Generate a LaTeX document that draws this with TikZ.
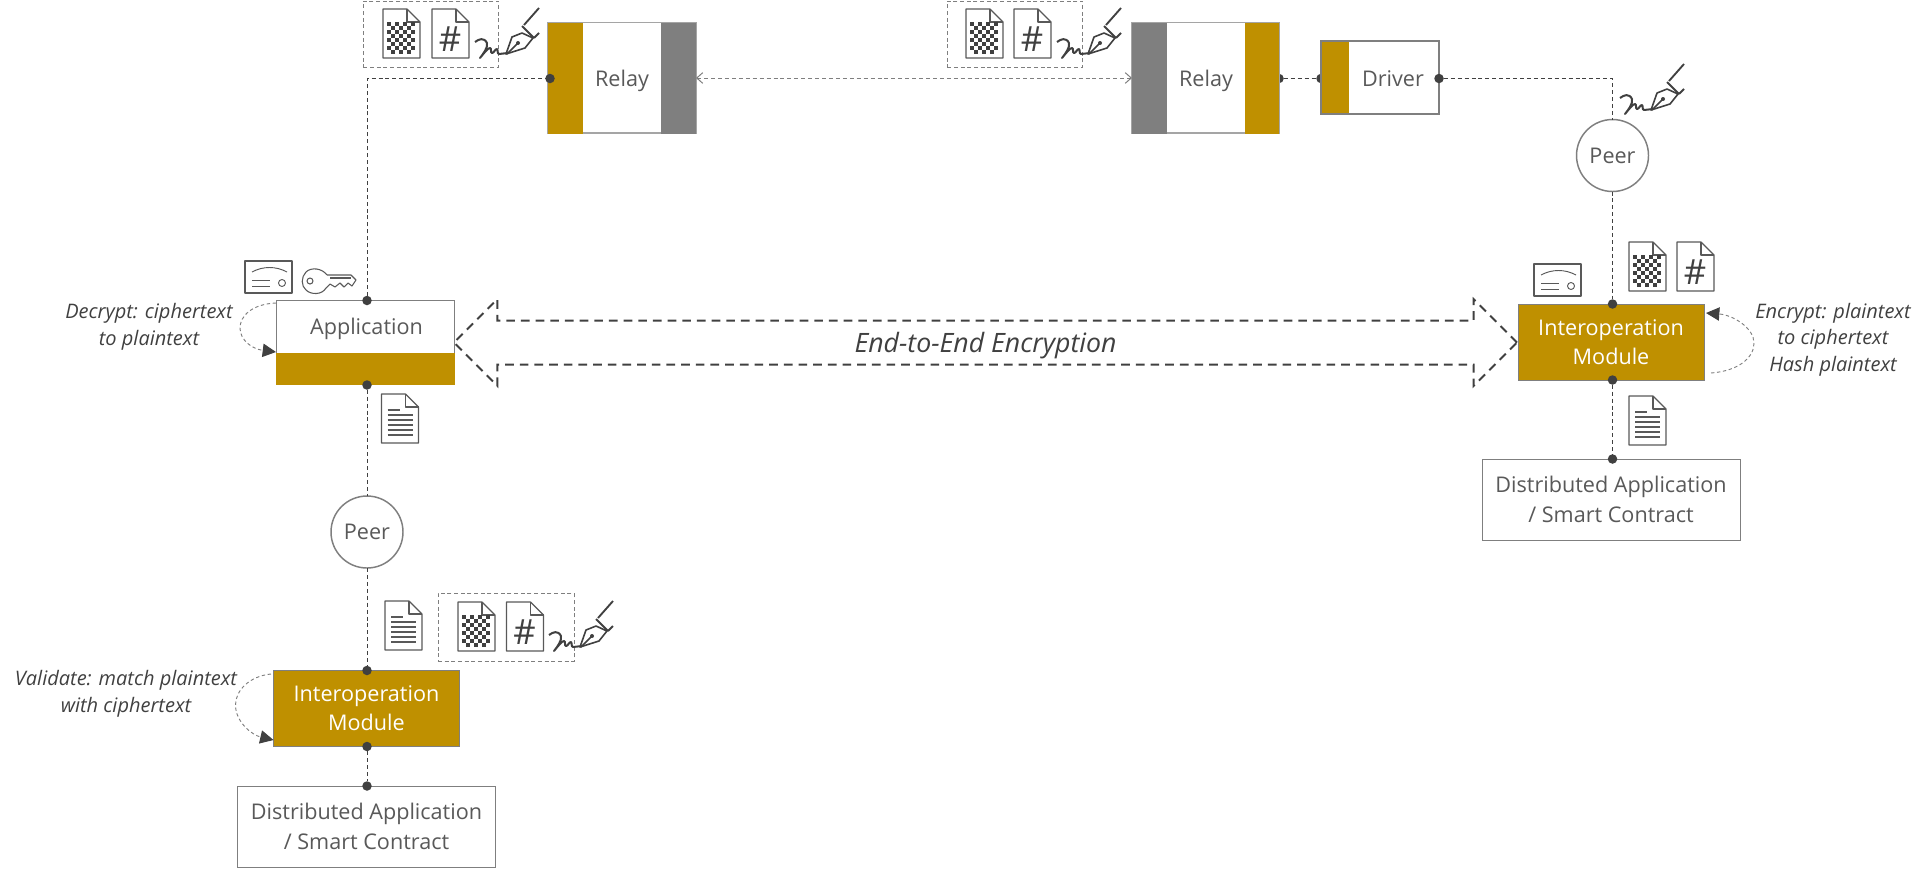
\documentclass[tikz,border=0pt]{standalone}
\usepackage{fontspec}
\setmainfont{Open Sans}
\usetikzlibrary{arrows.meta}
\usetikzlibrary{shapes.arrows}

\begin{document}
\begin{tikzpicture}[x=0.75pt,y=-0.75pt]
    % Colours
    \definecolor{Gold_bar}{RGB}{191,144,0}
    \definecolor{Gray_bar}{RGB}{127,127,127}
    \definecolor{Gray_line}{RGB}{127,127,127}
    \definecolor{Gray_text}{RGB}{89,89,89}
    \definecolor{Gray_dark}{RGB}{64,64,64}

    \tikzset{
        boxlabel/.style={text=Gray_text, font=\fontsize{16.2}{22}\selectfont, align=center},
        plainbox/.style={rectangle, draw=Gray_line, fill=white, line width=0.7pt, outer sep=0pt, inner sep=0pt, anchor=north west, boxlabel},
        goldbox/.style={plainbox, fill=Gold_bar, text=white},
        barnode/.style={rectangle, outer sep=0pt, inner sep=0pt, anchor=north west},
        peernode/.style={circle, draw=Gray_line, fill=white, line width=1.1pt, minimum size=72*0.75pt, inner sep=0pt, outer sep=0pt, boxlabel},
        dotnode/.style={circle, fill=Gray_dark, minimum size=9.5*0.75pt, inner sep=0pt, outer sep=0pt},
        noteline/.style={text=Gray_dark, font=\itshape\fontsize{15}{20}\selectfont, align=center},
        connector/.style={draw=Gray_dark, line width=0.75pt, dash pattern=on 3pt off 2.2pt},
        relaylink/.style={draw=Gray_line, line width=0.75pt, dash pattern=on 3pt off 2.2pt, {Straight Barb[length=4.5pt,width=8pt]}-{Straight Barb[length=4.5pt,width=8pt]}},
        selfloop/.style={draw=Gray_line, line width=0.7pt, dash pattern=on 2.5pt off 2pt, -{Triangle[length=10pt,width=10pt,fill=Gray_dark,Gray_dark]}},
        groupbox/.style={rectangle, draw=Gray_line, line width=0.7pt, dash pattern=on 3pt off 2pt, anchor=north west, inner sep=0pt},
        iconline/.style={draw=Gray_text, line width=0.9pt, line join=round},
        docpage/.pic={
            \draw[iconline, fill=white] (0,0) -- (24,0) -- (37,13) -- (37,49) -- (0,49) -- cycle;
            \draw[iconline] (24,0) -- (24,13) -- (37,13);
        },
        docchecker/.pic={
            \pic {docpage};
            \foreach \i in {0,...,6} {
                \foreach \j in {0,...,7} {
                    \pgfmathparse{int(mod(\i+\j,2))}
                    \ifnum\pgfmathresult=0
                        \fill[Gray_dark] (4+\i*4,13+\j*4) rectangle (8+\i*4,17+\j*4);
                    \fi
                }
            }
        },
        dochash/.pic={
            \pic {docpage};
            \node[text=Gray_dark, font=\fontsize{26}{26}\selectfont, inner sep=0pt] (-mark) at (18,30) {\#};
        },
        doclines/.pic={
            \pic {docpage};
            \draw[iconline] (6,16) -- (18,16);
            \foreach \k in {21,26,31,36,41} {
                \draw[iconline] (6,\k) -- (31,\k);
            }
        },
        certicon/.pic={
            \draw[iconline, fill=white] (0,0) rectangle (47,32);
            \draw[iconline, line width=0.7pt] (7,11) .. controls (18,5) and (31,5) .. (42,11);
            \draw[iconline, line width=0.7pt] (7,19) -- (25,19);
            \draw[iconline, line width=0.7pt] (7,25) -- (25,25);
            \draw[iconline, line width=0.7pt] (37,22) circle (3.5);
        },
        keyicon/.pic={
            \draw[iconline, line width=0.8pt] (24,7) .. controls (19,0) and (8,-1) .. (3,4) .. controls (-2,9) and (-2,18) .. (3,22) .. controls (8,27) and (19,27) .. (23,20);
            \draw[iconline, line width=0.8pt] (24,7) -- (48,7) -- (53,12) -- (49,18) -- (45,15) -- (41,19) -- (37,15) -- (32,19) -- (27,16) -- (23,20);
            \draw[iconline, line width=0.8pt] (27,10) -- (48,10);
            \draw[iconline, line width=0.8pt] (7,13) circle (3);
        },
        penicon/.pic={
            \draw[draw=Gray_dark, line width=1.5pt, line join=round] (0,35) .. controls (4,32) and (9,30) .. (12,36) .. controls (13,41) and (8,47) .. (5,51) .. controls (9,46) and (13,41) .. (15,41) .. controls (17,41) and (15,46) .. (17,46) .. controls (19,46) and (20,42) .. (22,42) .. controls (23,42) and (22,47) .. (24,47) -- (33,46);
            \draw[draw=Gray_dark, line width=1.2pt, line join=round] (31,47) -- (37,30) -- (47,26) -- (58,31) -- (50,41) -- cycle;
            \draw[draw=Gray_dark, line width=1.1pt] (32,47) -- (43,36);
            \fill[Gray_dark] (43,36) circle (2);
            \draw[draw=Gray_dark, line width=1.4pt] (47,19) -- (59,31);
            \draw[draw=Gray_dark, line width=1.4pt] (49,18) -- (64,1);
            \draw[draw=Gray_dark, line width=1.4pt] (59,31) -- (64,26);
        }
    }

    \useasboundingbox (0,0) rectangle (1929,872);

    % Half hidden dots
    \node[dotnode] (relayBout) at (1279,78.5) {};
    \node[dotnode] (driverIn) at (1321,78.5) {};

    % Relays
    \node[plainbox, draw=Gray_line!70, line width=1pt, minimum width=148*0.75pt, minimum height=110.5*0.75pt] (relayA) at (548,22.5) {};
    \node[barnode, fill=Gold_bar, minimum width=35*0.75pt, minimum height=111*0.75pt] (relayAgold) at (548,22.5) {};
    \node[barnode, fill=Gray_bar, minimum width=35*0.75pt, minimum height=111*0.75pt] (relayAgray) at (661,22.5) {};
    \node[boxlabel] (relayAtext) at (622,80.5) {Relay};

    \node[plainbox, draw=Gray_line!70, line width=1pt, minimum width=147*0.75pt, minimum height=110.5*0.75pt] (relayB) at (1132,22.5) {};
    \node[barnode, fill=Gray_bar, minimum width=35*0.75pt, minimum height=111*0.75pt] (relayBgray) at (1132,22.5) {};
    \node[barnode, fill=Gold_bar, minimum width=34*0.75pt, minimum height=111*0.75pt] (relayBgold) at (1245,22.5) {};
    \node[boxlabel] (relayBtext) at (1206,80.5) {Relay};

    % Driver
    \node[plainbox, line width=1.1pt, minimum width=118*0.75pt, minimum height=73*0.75pt] (driver) at (1321,41) {};
    \node[barnode, fill=Gold_bar, minimum width=27*0.75pt, minimum height=71*0.75pt] (drivergold) at (1322,42) {};
    \node[boxlabel] (drivertext) at (1393,78.5) {Driver};

    % Application
    \node[plainbox, line width=1.3pt, minimum width=178*0.75pt, minimum height=84*0.75pt] (app) at (276.5,300.5) {};
    \node[barnode, fill=Gold_bar, minimum width=179*0.75pt, minimum height=32*0.75pt] (appgold) at (276,353) {};
    \node[boxlabel] (apptext) at (366.5,329) {Application};

    % Interoperation modules
    \node[goldbox, minimum width=186*0.75pt, minimum height=76*0.75pt] (moduleA) at (273.5,670.5) {};
    \node[boxlabel, text=white] (moduleAtext) at (366.5,708) {Interoperation\\Module};
    \node[goldbox, minimum width=186*0.75pt, minimum height=76*0.75pt] (moduleB) at (1518,304) {};
    \node[boxlabel, text=white] (moduleBtext) at (1611,342.5) {Interoperation\\Module};

    % Distributed applications
    \node[plainbox, minimum width=258*0.75pt, minimum height=81*0.75pt] (dappA) at (237.5,786) {Distributed Application\\/ Smart Contract};
    \node[plainbox, minimum width=258*0.75pt, minimum height=81*0.75pt] (dappB) at (1482,459) {Distributed Application\\/ Smart Contract};

    % Peers
    \node[peernode] (peerA) at (367,532) {Peer};
    \node[peernode] (peerB) at (1612.5,155.5) {Peer};

    % Dots
    \node[dotnode] (relayAin) at (550,78.5) {};
    \node[dotnode] (driverOut) at (1439,78.5) {};
    \node[dotnode] (appTop) at (367,300.5) {};
    \node[dotnode] (appBottom) at (367,385) {};
    \node[dotnode] (moduleAtop) at (367,670.5) {};
    \node[dotnode] (moduleAbottom) at (367,746.5) {};
    \node[dotnode] (dappAtop) at (367,786) {};
    \node[dotnode] (moduleBtop) at (1612.5,304) {};
    \node[dotnode] (moduleBbottom) at (1612.5,380) {};
    \node[dotnode] (dappBtop) at (1612.5,459) {};

    % Connectors
    \draw[connector] (appTop) |- (relayAin);
    \draw[connector] (appBottom) -- (peerA);
    \draw[connector] (peerA) -- (moduleAtop);
    \draw[connector] (moduleAbottom) -- (dappAtop);
    \draw[connector] (relayBout) -- (driverIn);
    \draw[connector] (driverOut) -| (peerB);
    \draw[connector] (peerB) -- (moduleBtop);
    \draw[connector] (moduleBbottom) -- (dappBtop);
    \draw[relaylink] (relayAgray.east) -- (relayBgray.west);

    % End-to-end arrow
    \node[double arrow, draw=Gray_dark, line width=1.5pt, dash pattern=on 6.5pt off 4.5pt,
        double arrow head extend=16pt, minimum height=1063*0.75pt, minimum width=85*0.75pt,
        inner xsep=0pt, inner ysep=5.25pt, outer sep=0pt, text height=18pt, text depth=3pt,
        text=Gray_dark, font=\itshape\fontsize{20}{20}\selectfont] (e2e) at (985.5,342.5) {End-to-End Encryption};

    % Self loops
    \coordinate (appLoopA) at (276,303);
    \coordinate (appLoopB) at (276,352);
    \coordinate (moduleAloopA) at (271,674);
    \coordinate (moduleAloopB) at (273.5,740);
    \coordinate (moduleBloopA) at (1711,373);
    \coordinate (moduleBloopB) at (1706,313);
    \draw[selfloop] (appLoopA) .. controls (252,304) and (240,316) .. (240,328) .. controls (240,340) and (252,349) .. (appLoopB);
    \draw[selfloop] (moduleAloopA) .. controls (250,676) and (235.5,690) .. (235.5,705) .. controls (235.5,722) and (252,735) .. (moduleAloopB);
    \draw[selfloop] (moduleBloopA) .. controls (1738,371) and (1754,358) .. (1754,343) .. controls (1754,328) and (1733,315) .. (moduleBloopB);

    % Notes
    \node[noteline] (noteDecrypt) at (149,326.5) {Decrypt: ciphertext\\to plaintext};
    \node[noteline] (noteValidate) at (126,693.5) {Validate: match plaintext\\with ciphertext};
    \node[noteline] (noteEncrypt) at (1833,339.5) {Encrypt: plaintext\\to ciphertext\\Hash plaintext};

    % Icons at the relays
    \node[groupbox, minimum width=135*0.75pt, minimum height=66.5*0.75pt] (groupA) at (363,0.5) {};
    \pic (checkerA) at (383,9) {docchecker};
    \pic (hashA) at (432,9) {dochash};
    \pic (penA) at (475,7) {penicon};
    \node[groupbox, minimum width=135*0.75pt, minimum height=66.5*0.75pt] (groupB) at (947,0.5) {};
    \pic (checkerB) at (966,9) {docchecker};
    \pic (hashB) at (1014,9) {dochash};
    \pic (penB) at (1057,7) {penicon};

    % Icons at the peers and modules
    \pic (penC) at (1620,63) {penicon};
    \pic (checkerC) at (1629,242) {docchecker};
    \pic (hashC) at (1677,242) {dochash};
    \pic (certC) at (1534,264) {certicon};
    \pic (linesC) at (1629,396) {doclines};
    \pic (certA) at (245,261) {certicon};
    \pic (keyA) at (303,268) {keyicon};
    \pic (linesA) at (381.5,394) {doclines};
    \pic (linesB) at (385,601) {doclines};
    \node[groupbox, minimum width=136*0.75pt, minimum height=68*0.75pt] (groupC) at (437.5,593) {};
    \pic (checkerD) at (458,602) {docchecker};
    \pic (hashD) at (506.5,602) {dochash};
    \pic (penD) at (549,600) {penicon};

\end{tikzpicture}
\end{document}
